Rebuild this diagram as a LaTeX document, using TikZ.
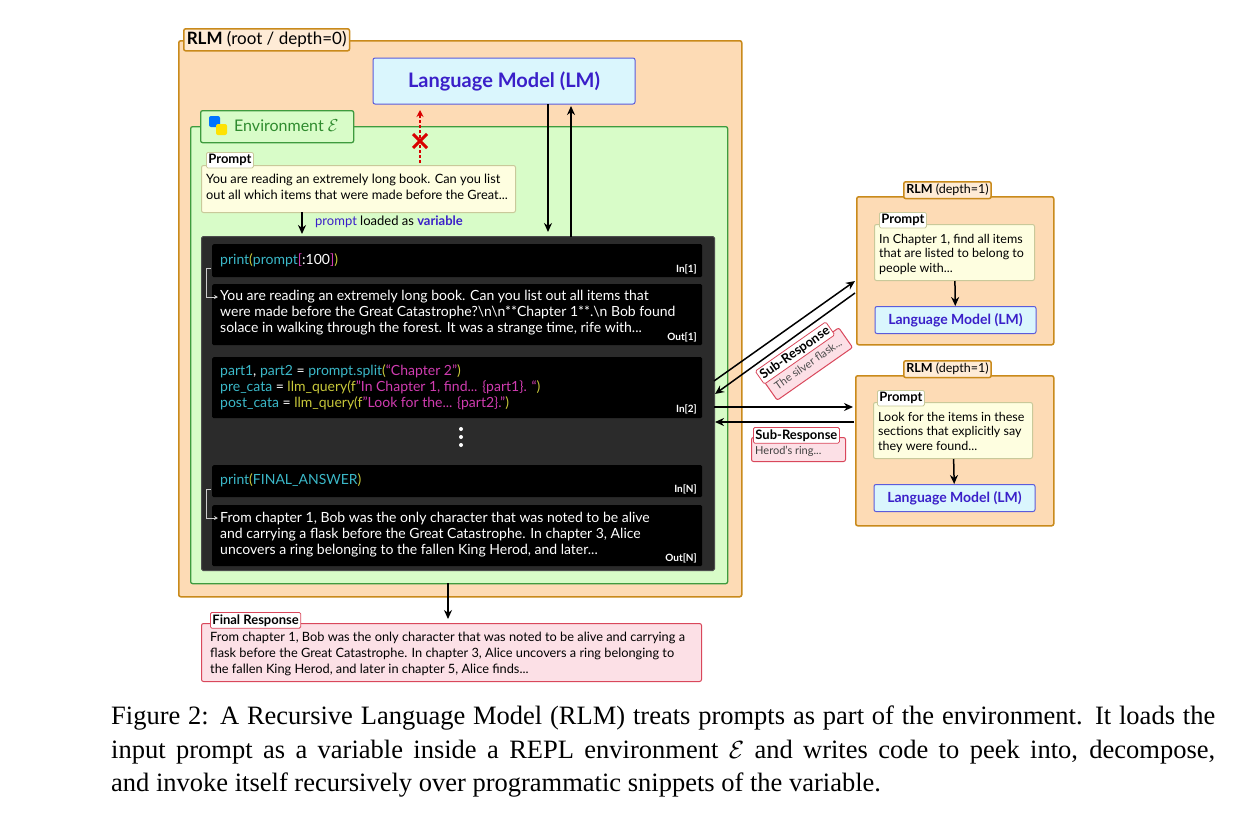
\documentclass[tikz,border=0pt]{standalone}
\usepackage{fontspec}
\setmainfont{Lato}
\newfontfamily\capfont{Liberation Serif}
\usetikzlibrary{arrows.meta}
\definecolor{peach}{HTML}{FDDBB5}
\definecolor{peachtab}{HTML}{FEEBD6}
\definecolor{orangeb}{HTML}{C98A1B}
\definecolor{lmfill}{HTML}{DAF6FD}
\definecolor{lmb}{HTML}{5B5BDB}
\definecolor{lmtext}{HTML}{3A1FC9}
\definecolor{envfill}{HTML}{D8FCC8}
\definecolor{envb}{HTML}{3E9B3E}
\definecolor{envtext}{HTML}{2E8B2E}
\definecolor{pfill}{HTML}{FEFEE0}
\definecolor{pb}{HTML}{C9C99A}
\definecolor{dark}{HTML}{2B2B2B}
\definecolor{ccy}{HTML}{3BB8C8}
\definecolor{cmg}{HTML}{D03CB0}
\definecolor{cyl}{HTML}{C8C83A}
\definecolor{rfill}{HTML}{FCE0E6}
\definecolor{rb}{HTML}{D9475B}
\newcommand{\fs}[2]{\fontsize{#1pt}{#2pt}\selectfont}
\tikzset{
 box/.style={draw, anchor=north west, inner sep=0pt, rounded corners=2pt, line width=1pt},
 rlmbox/.style={box, fill=peach, draw=orangeb, line width=1.5pt},
 rlmtab/.style={draw=orangeb, fill=peachtab, line width=1.5pt, rounded corners=2pt, inner sep=3pt, font=\fs{17}{20}},
 lmbox/.style={box, fill=lmfill, draw=lmb, text=lmtext, font=\bfseries\fs{20}{24}},
 pbox/.style={box, fill=pfill, draw=pb},
 ptab/.style={draw=pb, fill=white, line width=0.8pt, rounded corners=1.5pt, inner sep=2pt, font=\bfseries\fs{13}{15}},
 txt/.style={anchor=north west, inner sep=0pt, align=left},
 cell/.style={anchor=north west, inner sep=0pt, fill=black, rounded corners=1.5pt},
 ctxt/.style={txt, text=white, font=\fs{14}{16}},
 clab/.style={anchor=south east, inner sep=0pt, text=white, font=\bfseries\fs{10}{12}},
 arr/.style={-{Stealth[length=9pt,width=8pt]}, line width=1.5pt},
 rbox/.style={box, fill=rfill, draw=rb},
 rtab/.style={draw=rb, fill=white, line width=0.8pt, rounded corners=1.5pt, inner sep=2pt, font=\bfseries\fs{13}{15}},
}
\begin{document}
\begin{tikzpicture}[x=1pt,y=-1pt]
\useasboundingbox[fill=white] (0,0) rectangle (1240,825);
% root RLM
\node[rlmbox, minimum width=563pt, minimum height=556pt] (rlm) at (178,40) {};
\node[rlmtab, anchor=north west] (rlmtab) at (183,28) {\textbf{RLM} (root / depth=0)};
\node[lmbox, minimum width=262pt, minimum height=46pt, anchor=center] (lm) at (504,81) {Language Model (LM)};
% environment
\node[box, fill=envfill, draw=envb, minimum width=537pt, minimum height=457pt, line width=1.3pt] (env) at (190,126) {};
\node[draw=envb, fill=envfill, line width=1.3pt, rounded corners=2pt, anchor=north west, minimum width=153pt, minimum height=32pt, inner sep=0pt] (envtab) at (200,110) {};
\node[txt, text=envtext, font=\fs{16}{19}, anchor=west] (envt) at (234,126) {Environment $\mathcal{E}$};
\fill[rounded corners=2pt, color=blue!55!cyan] (209,116) rectangle (220,127);
\fill[rounded corners=2pt, color=yellow!85!orange] (216,124) rectangle (227,135);
% prompt
\node[pbox, minimum width=314pt, minimum height=47pt] (prompt) at (201,165) {};
\node[ptab, anchor=north west] (ptab) at (206,152) {Prompt};
\node[txt, font=\fs{12.8}{16}] (ptext) at (206,174) {You are reading an extremely long book. Can you list\\out all which items that were made before the Great...};
% red dashed arrow
\coordinate (rx0) at (420,163);
\coordinate (rx1) at (420,110);
\draw[red!85!black, densely dashed, line width=1.2pt, -{Stealth[length=7pt,width=7pt]}] (rx0) -- (rx1);
\coordinate (xm) at (420,141);
\draw[red!85!black, line width=3pt] ([shift={(-7,-7)}]xm) -- ([shift={(7,7)}]xm) ([shift={(-7,7)}]xm) -- ([shift={(7,-7)}]xm);
% dark panel
\node[box, fill=dark, draw=black!70, minimum width=513pt, minimum height=334pt, rounded corners=1.5pt] (panel) at (201,236) {};
\coordinate (pin) at (302,212);
\draw[arr] (pin) -- (302,234);
\node[txt, anchor=west, font=\fs{13}{15}] (loaded) at (315,222) {\textcolor{lmtext}{prompt} loaded as \textcolor{lmtext}{\textbf{variable}}};
\coordinate (lmd) at (548,104);
\draw[arr] (lmd) -- (548,232);
\coordinate (lmu) at (571,237);
\draw[arr] (lmu) -- (571,106);
% cells
\node[cell, minimum width=490pt, minimum height=33pt] (c1) at (212,244) {};
\node[ctxt] at (220,253) {\textcolor{ccy}{print}\textcolor{cyl}{(}\textcolor{ccy}{prompt}\textcolor{cmg}{[}:100\textcolor{cmg}{]}\textcolor{cyl}{)}};
\node[clab] at (697,274) {In[1]};
\node[cell, minimum width=490pt, minimum height=61pt] (c2) at (212,284) {};
\node[ctxt] at (220,290) {You are reading an extremely long book. Can you list out all items that\\were made before the Great Catastrophe?\textbackslash n\textbackslash n**Chapter 1**.\textbackslash n Bob found\\solace in walking through the forest. It was a strange time, rife with...};
\node[clab] at (697,342) {Out[1]};
\node[cell, minimum width=490pt, minimum height=61pt] (c3) at (212,357) {};
\node[ctxt] at (220,364) {\textcolor{ccy}{part1}, \textcolor{ccy}{part2} = \textcolor{ccy}{prompt.split}\textcolor{cyl}{(}\textcolor{cmg}{“Chapter 2”}\textcolor{cyl}{)}\\
\textcolor{ccy}{pre\_cata} = \textcolor{cyl}{llm\_query(f}\textcolor{cmg}{”In Chapter 1, find... \{part1\}. “}\textcolor{cyl}{)}\\
\textcolor{ccy}{post\_cata} = \textcolor{cyl}{llm\_query(f}\textcolor{cmg}{”Look for the... \{part2\}.”}\textcolor{cyl}{)}};
\node[clab] at (697,414) {In[2]};
\fill[white] (461,429) circle (2pt) (461,437) circle (2pt) (461,445) circle (2pt);
\node[cell, minimum width=490pt, minimum height=32pt] (c4) at (212,465) {};
\node[ctxt] at (220,473) {\textcolor{ccy}{print}\textcolor{cyl}{(}\textcolor{ccy}{FINAL\_ANSWER}\textcolor{cyl}{)}};
\node[clab] at (697,494) {In[N]};
\node[cell, minimum width=490pt, minimum height=61pt] (c5) at (212,505) {};
\node[ctxt] at (220,512) {From chapter 1, Bob was the only character that was noted to be alive\\and carrying a flask before the Great Catastrophe. In chapter 3, Alice\\uncovers a ring belonging to the fallen King Herod, and later...};
\node[clab] at (697,563) {Out[N]};
\coordinate (b1) at (211,268);
\draw[white!80!black, line width=0.8pt, -{Stealth[length=4pt,width=4pt]}] (b1) -- (206,268) -- (206,297) -- (218,297);
\coordinate (b2) at (211,489);
\draw[white!80!black, line width=0.8pt, -{Stealth[length=4pt,width=4pt]}] (b2) -- (206,489) -- (206,518) -- (218,518);
% right RLM boxes
\node[rlmbox, minimum width=197pt, minimum height=148pt] (r1) at (856,196) {};
\node[rlmtab, anchor=north west, font=\fs{12.5}{15}, inner sep=2.5pt] (r1tab) at (903,181) {\textbf{RLM} (depth=1)};
\node[pbox, minimum width=160pt, minimum height=56pt] (p1) at (874,224) {};
\node[ptab, anchor=north west] (p1tab) at (879,212) {Prompt};
\node[txt, font=\fs{12.5}{14.5}] (p1t) at (879,234) {In Chapter 1, find all items\\that are listed to belong to\\people with...};
\node[lmbox, minimum width=161pt, minimum height=27pt, font=\bfseries\fs{14}{16}, anchor=center] (lm1) at (955.5,320) {Language Model (LM)};
\draw[arr] (p1) -- (lm1);
\node[rlmbox, minimum width=198pt, minimum height=150pt] (r2) at (855,375) {};
\node[rlmtab, anchor=north west, font=\fs{12.5}{15}, inner sep=2.5pt] (r2tab) at (903,360) {\textbf{RLM} (depth=1)};
\node[pbox, minimum width=159pt, minimum height=56pt] (p2) at (873,402) {};
\node[ptab, anchor=north west] (p2tab) at (877,390) {Prompt};
\node[txt, font=\fs{12.5}{14.5}] (p2t) at (878,412) {Look for the items in these\\sections that explicitly say\\they were found...};
\node[lmbox, minimum width=161pt, minimum height=27pt, font=\bfseries\fs{14}{16}, anchor=center] (lm2) at (954.5,498) {Language Model (LM)};
\draw[arr] (p2) -- (lm2);
% connectors
\coordinate (a1) at (714,381);
\coordinate (a1e) at (855,281);
\draw[arr] (a1) -- (a1e);
\coordinate (a2) at (855,293);
\coordinate (a2e) at (715,394);
\draw[arr] (a2) -- (a2e);
\coordinate (a3) at (714,407);
\coordinate (a3e) at (853,407);
\draw[arr] (a3) -- (a3e);
\coordinate (a4) at (854,422);
\coordinate (a4e) at (715,422);
\draw[arr] (a4) -- (a4e);
% sub responses (rotated)
\node[rbox, anchor=center, minimum width=92pt, minimum height=24pt, font=\fs{11}{13}, text=black!70, rotate=35] (s1) at (808,364) {\raisebox{-3pt}{The silver flask...}};
\node[rtab, anchor=center, rotate=35] (s1tab) at (795,353) {Sub-Response};
\node[rbox, minimum width=94pt, minimum height=24pt] (s2) at (751,437) {};
\node[txt, font=\fs{11}{13}, text=black!75] (s2t) at (755,446) {Herod’s ring...};
\node[rtab, anchor=north west] (s2tab) at (753,427) {Sub-Response};
% final response
\coordinate (fr0) at (448,583);
\draw[arr] (fr0) -- (448,619);
\node[rbox, minimum width=500pt, minimum height=58pt] (final) at (201,623) {};
\node[rtab, anchor=north west] (ftab) at (210,612) {Final Response};
\node[txt, font=\fs{12.8}{16}] (ftext) at (210,632) {From chapter 1, Bob was the only character that was noted to be alive and carrying a\\flask before the Great Catastrophe. In chapter 3, Alice uncovers a ring belonging to\\the fallen King Herod, and later in chapter 5, Alice finds...};
% caption
\node[txt, anchor=west, font=\capfont\fontsize{26.5}{30}\selectfont] (cap1) at (111,718) {\makebox[1104pt][s]{Figure 2: A Recursive Language Model (RLM) treats prompts as part of the environment. It loads the}};
\node[txt, anchor=west, font=\capfont\fontsize{26.5}{30}\selectfont] (cap2) at (111,752) {\makebox[1104pt][s]{input prompt as a variable inside a REPL environment $\mathcal{E}$ and writes code to peek into, decompose,}};
\node[txt, anchor=west, font=\capfont\fontsize{26.5}{30}\selectfont] (cap3) at (111,785) {and invoke itself recursively over programmatic snippets of the variable.};
\end{tikzpicture}
\end{document}
